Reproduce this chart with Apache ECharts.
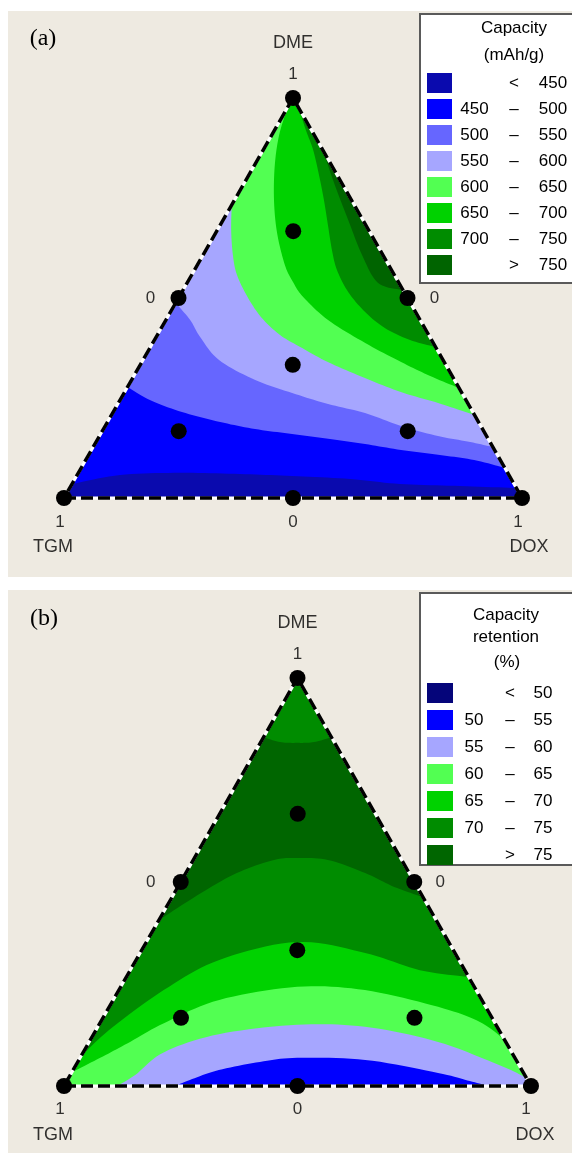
<!DOCTYPE html>
<html>
<head>
<meta charset="utf-8">
<script src="https://cdn.jsdelivr.net/npm/echarts@6/dist/echarts.min.js"></script>
<style>
html,body{margin:0;padding:0;background:#fff;}
#chart{width:572px;height:1155px;}
</style>
</head>
<body>
<div id="chart"></div>
<script>
// ---------- DATA (compositions in %, as [DOX, DME]; TGM = 100 - DOX - DME) ----------
const TGM = [0, 0], DOX = [100, 0], DME = [0, 100];

const capacityBands  = ['< 450', '450 – 500', '500 – 550', '550 – 600', '600 – 650', '650 – 700', '700 – 750', '> 750'];
const retentionBands = ['< 50', '50 – 55', '55 – 60', '60 – 65', '65 – 70', '70 – 75', '> 75'];

// simplex-centroid design points (both panels)
const designPoints = [[0,0],[100,0],[0,100],[0,50],[50,50],[50,0],[33.3,33.3],[16.7,66.7],[16.7,16.7],[66.7,16.7]];

// axis text
const cornerNames = ['DME', 'TGM', 'DOX'];
const tickText = ['1', '0', '0', '1', '0', '1'];           // apex, left mid, right mid, TGM, base mid, DOX
const tickAnchors = [[0,100],[0,50],[50,50],[0,0],[50,0],[100,0]];

// panel (a) capacity contour lines (mAh/g)
const capC450 = [[0,3.5],[9.4,5.75],[22.2,6.3],[35.4,6.0],[47.0,5.5],[60.1,4.75],[71.6,3.5],[85.0,3.0],[97.5,2.5]];
const capC500 = [[0,27.75],[6.5,24.5],[15.0,21.5],[24.6,19],[33.1,17.25],[41.8,16],[50.7,14.75],[59.0,13.5],[67.6,12],[76.7,10.75],[84.8,9.5],[92.5,7.5]];
const capC550 = [[0,48.75],[5.3,44.5],[9.6,40.25],[16.6,34.5],[27.0,29.5],[36.7,26.25],[45.9,23.5],[55.1,21.25],[64.6,18],[73.9,15.5],[81.7,14],[87.25,12.75]];
const capC600 = [[0,73.25],[3.0,67],[6.5,60.75],[9.9,55.75],[15.2,50],[20.7,45],[26.8,40.75],[32.7,37.75],[40.6,34],[50.7,30],[60.3,26.5],[69.8,23.75],[79.25,20.75]];
const capC650 = [[0,97.5],[1.6,90.75],[4.4,83.25],[8.6,74.5],[13.4,66.25],[19.1,58.25],[23,54],[27.1,50.25],[35.4,44.5],[46.4,38.75],[56.6,34],[64.7,30.5],[72.5,27.5]];
const capC700 = [[2.5,97.5],[6.8,92],[10.9,87],[15.3,80.75],[19.5,74.5],[23.5,68.25],[27.5,62],[31.1,57],[36.3,51.5],[42.5,46.5],[48.8,42.5],[55.8,39.5],[62.25,37.75]];
const capC750 = [[13,87],[20.0,78.25],[27.3,69.5],[34.7,60.75],[41.7,53.75],[48,52]];

// panel (b) capacity retention contour lines (%)
const retCap = [[0,85.5],[4.1,84.3],[7.9,84.1],[11.4,84.3],[14.5,85.5]];
const retC75 = [[0,40.7],[5.7,47.3],[10.9,52.2],[17.3,55.4],[22.0,55.9],[28.8,55.4],[38.4,52.2],[46.3,48.8],[53.7,46.3]];
const retC70 = [[0,7.1],[2.8,13.7],[9.6,23.5],[17.8,30.9],[32.2,35.3],[48.2,32.6],[62.0,28.4],[73.3,26.7]];
const retC65 = [[0,3.4],[4.3,6.9],[8.4,10.5],[13.7,15.4],[22.7,21.1],[37.8,24.3],[52.7,23.5],[70.4,19.4],[81.2,15.7],[88.7,11.3]];
const retC60 = [[11.3,0],[13.9,2.7],[17.3,8.3],[26.8,12.7],[42.4,15.0],[57.2,14.5],[74.7,10.8],[91.7,4.7],[98,2.0]];
const retC55 = [[23.8,0],[26.2,1.5],[31.2,3.9],[39.0,5.9],[46.5,6.9],[61.3,6.4],[78.5,3.2],[86.3,1.2],[91.0,0]];

// ---------- STYLE ----------
const capColors = ['#0a0aae', '#0000ff', '#6666ff', '#a6a6ff', '#52ff52', '#00d200', '#008c00', '#006400'];
const retColors = ['#05057a', '#0000ff', '#a6a6ff', '#52ff52', '#00d200', '#008c00', '#006600'];
const SANS = 'Liberation Sans, Arial, sans-serif';

// regions in painting order: band, list of [points, smoothCurve?] segments
const capRegions = [
  ['< 450',     [[[TGM, DOX, DME], false]]],
  ['450 – 500', [[capC450, true], [[DME], false]]],
  ['500 – 550', [[capC500, true], [[DME], false]]],
  ['550 – 600', [[capC550, true], [[DME], false]]],
  ['600 – 650', [[capC600, true], [[DME], false]]],
  ['650 – 700', [[capC650, true], [[DME], false]]],
  ['700 – 750', [[capC700, true]]],
  ['> 750',     [[capC750, true]]]
];
const retRegions = [
  ['70 – 75', [[[TGM, DOX, DME], false]]],
  ['> 75',    [[retCap, true], [retC75.slice().reverse(), true]]],
  ['65 – 70', [[retC70, true], [[DOX, TGM], false]]],
  ['60 – 65', [[retC65, true], [[DOX, TGM], false]]],
  ['55 – 60', [[retC60, true], [[DOX], false]]],
  ['50 – 55', [[retC55, true]]]
];

function toXY(c) { return [(c[0] + c[1] / 2) / 100, c[1] / 100]; }

// Catmull-Rom smoothing of a pixel polyline (drawing only)
function smoothPx(p) {
  if (p.length < 3) return p.slice();
  const out = [p[0]];
  const N = 10;
  for (let i = 0; i < p.length - 1; i++) {
    const p0 = p[Math.max(0, i - 1)], p1 = p[i], p2 = p[i + 1], p3 = p[Math.min(p.length - 1, i + 2)];
    for (let k = 1; k <= N; k++) {
      const t = k / N, t2 = t * t, t3 = t2 * t;
      const f = (a, b, c, d) => 0.5 * ((2 * b) + (-a + c) * t + (2 * a - 5 * b + 4 * c - d) * t2 + (-a + 3 * b - 3 * c + d) * t3);
      out.push([f(p0[0], p1[0], p2[0], p3[0]), f(p0[1], p1[1], p2[1], p3[1])]);
    }
  }
  return out;
}

function bandSeries(bands, colors, regions, gi) {
  const out = [];
  let z = 2;
  const order = regions.map(r => r[0]);
  bands.forEach(b => { if (order.indexOf(b) < 0) order.push(b); });
  order.forEach(b => {
    const polys = regions.filter(r => r[0] === b).map(r => r[1]);
    const color = colors[bands.indexOf(b)];
    out.push({
      type: 'custom', name: b, coordinateSystem: 'cartesian2d',
      xAxisIndex: gi, yAxisIndex: gi, z: z++, silent: true,
      itemStyle: { color: color },
      data: polys.map(() => [0, 0]),
      renderItem: function (params, api) {
        let pts = [];
        polys[params.dataIndex].forEach(seg => {
          const px = seg[0].map(p => api.coord(toXY(p)));
          pts = pts.concat(seg[1] ? smoothPx(px) : px);
        });
        return { type: 'polygon', shape: { points: pts }, style: { fill: color } };
      }
    });
  });
  return out;
}

function borderSeries(gi) {
  const corners = [TGM, DOX, DME];
  return {
    type: 'custom', coordinateSystem: 'cartesian2d', xAxisIndex: gi, yAxisIndex: gi,
    z: 20, silent: true, data: [[0, 0]],
    renderItem: function (params, api) {
      const pts = corners.map(p => api.coord(toXY(p)));
      return { type: 'group', children: [
        { type: 'polygon', shape: { points: pts }, style: { fill: 'none', stroke: '#ffffff', lineWidth: 3 } },
        { type: 'polygon', shape: { points: pts }, style: { fill: 'none', stroke: '#000000', lineWidth: 3.5, lineDash: [12, 5] } }
      ] };
    }
  };
}

function dotSeries(gi) {
  return {
    type: 'scatter', xAxisIndex: gi, yAxisIndex: gi, z: 30, silent: true,
    symbol: 'circle', symbolSize: 16, itemStyle: { color: '#000', opacity: 1 },
    data: designPoints.map(toXY)
  };
}

function labelSeries(gi, tickOff, nameOff) {
  const data = [];
  tickText.forEach((t, i) => data.push({ value: toXY(tickAnchors[i]), label: { formatter: t, offset: tickOff[i], fontSize: 17 } }));
  const nameAnchors = [DME, TGM, DOX];
  cornerNames.forEach((t, i) => data.push({ value: toXY(nameAnchors[i]), label: { formatter: t, offset: nameOff[i], fontSize: 18 } }));
  return {
    type: 'scatter', xAxisIndex: gi, yAxisIndex: gi, z: 40, silent: true,
    symbolSize: 0.01, itemStyle: { color: 'rgba(0,0,0,0)' },
    label: { show: true, position: 'inside', align: 'center', verticalAlign: 'middle', color: '#000', fontFamily: SANS },
    data: data
  };
}

function legendFormatter(name) {
  const p = name.split(' ');
  const a = p.length === 3 ? p[0] : ' ';
  const b = p.length === 3 ? p[1] : p[0];
  const c = p.length === 3 ? p[2] : p[1];
  return '{a|' + a + '}{b|' + b + '}{c|' + c + '}';
}

const chart = echarts.init(document.getElementById('chart'), null, { renderer: 'canvas' });

const T = { fontSize: 17, fontFamily: SANS, fill: '#000', align: 'center', verticalAlign: 'middle' };
const option = {
  animation: false,
  backgroundColor: '#ffffff',
  graphic: [
    { type: 'rect', shape: { x: 8, y: 11, width: 570, height: 566 }, style: { fill: '#eeeae1' }, z: 0 },
    { type: 'rect', shape: { x: 8, y: 590, width: 570, height: 563 }, style: { fill: '#eeeae1' }, z: 0 },
    { type: 'rect', shape: { x: 420, y: 14, width: 170, height: 269 }, style: { fill: '#ffffff', stroke: '#5a5a5a', lineWidth: 2 }, z: 1 },
    { type: 'rect', shape: { x: 420, y: 593, width: 170, height: 272 }, style: { fill: '#ffffff', stroke: '#5a5a5a', lineWidth: 2 }, z: 1 },
    { type: 'text', x: 514, y: 28, z: 5, style: Object.assign({ text: 'Capacity' }, T) },
    { type: 'text', x: 514, y: 55, z: 5, style: Object.assign({ text: '(mAh/g)' }, T) },
    { type: 'text', x: 506, y: 615, z: 5, style: Object.assign({ text: 'Capacity' }, T) },
    { type: 'text', x: 506, y: 637, z: 5, style: Object.assign({ text: 'retention' }, T) },
    { type: 'text', x: 507, y: 662, z: 5, style: Object.assign({ text: '(%)' }, T) },
    { type: 'text', x: 43, y: 39, z: 5, style: { text: '(a)', align: 'center', verticalAlign: 'middle', fontSize: 24, fontFamily: 'Liberation Serif, Times New Roman, serif', fill: '#000' } },
    { type: 'text', x: 44, y: 619, z: 5, style: { text: '(b)', align: 'center', verticalAlign: 'middle', fontSize: 24, fontFamily: 'Liberation Serif, Times New Roman, serif', fill: '#000' } }
  ],
  grid: [
    { left: 64, top: 98, width: 458, height: 400 },
    { left: 64, top: 678, width: 467, height: 408 }
  ],
  xAxis: [
    { gridIndex: 0, type: 'value', min: 0, max: 1, show: false },
    { gridIndex: 1, type: 'value', min: 0, max: 1, show: false }
  ],
  yAxis: [
    { gridIndex: 0, type: 'value', min: 0, max: 1, show: false },
    { gridIndex: 1, type: 'value', min: 0, max: 1, show: false }
  ],
  legend: [
    {
      data: capacityBands, orient: 'vertical', left: 427, top: 73, padding: 0,
      itemWidth: 25, itemHeight: 20, itemGap: 6, icon: 'rect', selectedMode: false,
      formatter: legendFormatter,
      textStyle: { fontSize: 17, fontFamily: SANS, color: '#000',
        rich: { a: { width: 35, align: 'right', fontSize: 17, fontFamily: SANS, color: '#000' },
                b: { width: 44, align: 'center', fontSize: 17, fontFamily: SANS, color: '#000' },
                c: { width: 34, align: 'left', fontSize: 17, fontFamily: SANS, color: '#000' } } }
    },
    {
      data: retentionBands, orient: 'vertical', left: 427, top: 683, padding: 0,
      itemWidth: 26, itemHeight: 20, itemGap: 7, icon: 'rect', selectedMode: false,
      formatter: legendFormatter,
      textStyle: { fontSize: 17, fontFamily: SANS, color: '#000',
        rich: { a: { width: 32, align: 'right', fontSize: 17, fontFamily: SANS, color: '#000' },
                b: { width: 40, align: 'center', fontSize: 17, fontFamily: SANS, color: '#000' },
                c: { width: 26, align: 'left', fontSize: 17, fontFamily: SANS, color: '#000' } } }
    }
  ],
  series: [].concat(
    bandSeries(capacityBands, capColors, capRegions, 0),
    bandSeries(retentionBands, retColors, retRegions, 1),
    [borderSeries(0), borderSeries(1), dotSeries(0), dotSeries(1),
     labelSeries(0, [[0,-24],[-28,0],[27,0],[-4,24],[0,24],[-4,24]], [[0,-55],[-11,49],[7,49]]),
     labelSeries(1, [[0,-24],[-30,0],[26,0],[-4,23],[0,23],[-5,23]], [[0,-55],[-11,49],[4,49]])]
  )
};
chart.setOption(option);
</script>
</body>
</html>
